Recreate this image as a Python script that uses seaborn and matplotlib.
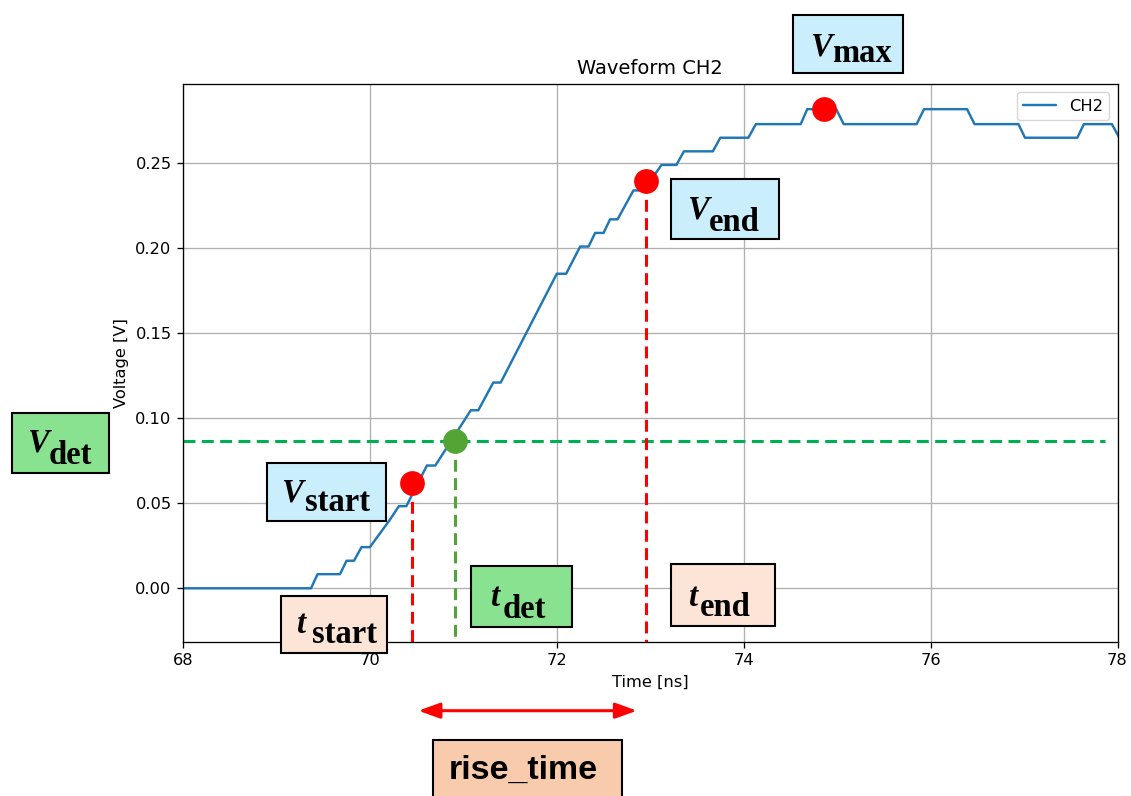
import matplotlib
matplotlib.use("Agg")
import matplotlib.pyplot as plt
from matplotlib.patches import Rectangle
import numpy as np
import pandas as pd
import seaborn as sns

# ---- waveform samples (vertices of the recorded CH2 trace) ----
time_ns = [68.00, 69.37, 69.44, 69.68, 69.75, 69.83, 69.91, 70.00, 70.21, 70.31,
           70.39, 70.61, 70.70, 71.08, 71.16, 71.32, 71.40, 72.00, 72.10, 72.25,
           72.34, 72.41, 72.50, 72.57, 72.65, 72.82, 72.93, 73.12, 73.28, 73.36,
           73.67, 73.75, 74.05, 74.13, 74.61, 74.68, 74.99, 75.07, 75.85, 75.93,
           76.39, 76.47, 76.94, 77.01, 77.57, 77.64, 77.94, 78.02, 78.10]
voltage_v = [0.0000, 0.0000, 0.0083, 0.0083, 0.0162, 0.0162, 0.0242, 0.0242, 0.0400, 0.0483,
             0.0483, 0.0722, 0.0722, 0.1047, 0.1047, 0.1210, 0.1210, 0.1850, 0.1850, 0.2010,
             0.2010, 0.2090, 0.2090, 0.2170, 0.2170, 0.2340, 0.2340, 0.2490, 0.2490, 0.2570,
             0.2570, 0.2650, 0.2650, 0.2730, 0.2730, 0.2818, 0.2818, 0.2730, 0.2730, 0.2818,
             0.2818, 0.2730, 0.2730, 0.2650, 0.2650, 0.2730, 0.2730, 0.2650, 0.2650]

# ---- characteristic points of the rising edge ----
t_start, v_start = 70.455, 0.0621
t_det, v_det = 70.915, 0.0864
t_end, v_end = 72.957, 0.2398
t_max = 74.86
v_max = max(voltage_v)

x_ticks = [68, 70, 72, 74, 76, 78]
y_ticks = [0.00, 0.05, 0.10, 0.15, 0.20, 0.25]

sns.set_style("ticks")
plt.rcParams.update({
    "font.family": ["DejaVu Sans"],
    "font.size": 11.7,
    "text.color": "black",
    "axes.labelcolor": "black",
    "axes.edgecolor": "black",
    "axes.linewidth": 0.94,
    "xtick.color": "black",
    "ytick.color": "black",
    "xtick.major.width": 0.94,
    "ytick.major.width": 0.94,
    "xtick.major.size": 4.1,
    "ytick.major.size": 4.1,
    "xtick.major.pad": 4.1,
    "ytick.major.pad": 4.1,
    "xtick.labelsize": 11.7,
    "ytick.labelsize": 11.7,
    "axes.labelsize": 11.7,
    "axes.titlesize": 14.0,
    "legend.fontsize": 11.7,
})

W, H = 1131, 796
fig = plt.figure(figsize=(W / 100, H / 100), dpi=100)
fig.patch.set_facecolor("white")
ax = fig.add_axes([183 / W, (H - 641.5) / H, 934.5 / W, 557.5 / H])

df = pd.DataFrame({"Time [ns]": time_ns, "Voltage [V]": voltage_v})
sns.lineplot(data=df, x="Time [ns]", y="Voltage [V]", ax=ax, color="#1f77b4",
             lw=1.75, label="CH2", sort=False, estimator=None)

ax.set_xlim(68, 78)
ax.set_ylim(-0.0313, 0.2966)
ax.set_xticks(x_ticks)
ax.set_yticks(y_ticks)
ax.set_yticklabels([f"{v:.2f}" for v in y_ticks])
ax.grid(True, color="#b0b0b0", lw=0.94)
ax.set_axisbelow(True)
ax.set_title("Waveform CH2", pad=7)
ax.set_xlabel("Time [ns]", labelpad=4.7)
ax.set_ylabel("Voltage [V]", labelpad=4.7)
for s in ax.spines.values():
    s.set_visible(True)

leg = ax.legend(loc="upper right", frameon=True, fancybox=True, framealpha=0.8,
                edgecolor="0.8", borderaxespad=0.5)

# ---- guide lines ----
dash = (0, (3.9, 2.1))
ybot = ax.get_ylim()[0]
red = "#ff0000"
green_v = "#52a535"
green_h = "#00b050"
ax.axhline(v_det, xmin=0, xmax=0.987, color=green_h, lw=2.2, ls=dash)
ax.plot([t_start, t_start], [v_start, ybot], color=red, lw=2.2, ls=dash)
ax.plot([t_end, t_end], [v_end, ybot], color=red, lw=2.2, ls=dash)
ax.plot([t_det, t_det], [v_det, ybot], color=green_v, lw=2.2, ls=dash)

# ---- markers ----
ax.plot([t_start, t_end, t_max], [v_start, v_end, v_max], "o", ms=16.8,
        color=red, mec=red, zorder=5, clip_on=False)
ax.plot([t_det], [v_det], "o", ms=16.8, color=green_v, mec=green_v, zorder=5)

# ---- rise time arrow under the axis ----
ax.annotate("", xy=(t_end, -0.1241), xytext=(t_start, -0.1241),
            xycoords=("data", "axes fraction"), textcoords=("data", "axes fraction"),
            annotation_clip=False,
            arrowprops=dict(arrowstyle="<|-|>,head_length=1.3,head_width=0.47",
                            mutation_scale=10, color=red, lw=2.2,
                            shrinkA=4.3, shrinkB=6.7))


# ---- label boxes (figure pixel layout, origin at top-left) ----
def fx(x):
    return x / W


def fy(y):
    return 1 - y / H


def label_box(x0, y0, x1, y1, color, main, mx, mb, sub=None, sx=None, sb=None,
              serif=True, size=23.5):
    fig.add_artist(Rectangle((fx(x0), fy(y1)), fx(x1) - fx(x0), fy(y0) - fy(y1),
                             transform=fig.transFigure, facecolor=color,
                             edgecolor="black", lw=1.5, zorder=4))
    if serif:
        fig.text(fx(mx), fy(mb), main, family="Liberation Serif", weight="bold",
                 style="italic", size=size, ha="left", va="baseline", zorder=6)
        fig.text(fx(sx), fy(sb), sub, family="Liberation Serif", weight="bold",
                 size=size, ha="left", va="baseline", zorder=6)
    else:
        fig.text(fx(mx), fy(mb), main, family="Liberation Sans", weight="bold",
                 size=size, ha="left", va="baseline", zorder=6)


blue_box = "#cbeefc"
green_box = "#88e28f"
peach_box = "#fce4d6"
salmon_box = "#f8cbad"

label_box(793, 15, 903, 73, blue_box, "V", 810, 55, "max", 832, 62)
label_box(670.7, 179.3, 779.3, 239.3, blue_box, "V", 687, 218.3, "end", 709, 230.7)
label_box(267, 463, 386, 521, blue_box, "V", 281, 501.7, "start", 305, 510.7)
label_box(11.7, 412.7, 109, 473.3, green_box, "V", 27, 451.7, "det", 49, 464)
label_box(471, 565.5, 571.6, 627.3, green_box, "t", 490, 606.5, "det", 503, 617.5)
label_box(671, 563.6, 774.6, 625.5, peach_box, "t", 688, 605.5, "end", 700, 616.4)
label_box(280.7, 596, 387.3, 652.7, peach_box, "t", 295.7, 633.3, "start", 312, 643)
label_box(433, 740, 621.7, 802, salmon_box, "rise_time", 449, 779.3,
          serif=False, size=24.5)

fig.savefig("out.png", dpi=100, facecolor="white")
